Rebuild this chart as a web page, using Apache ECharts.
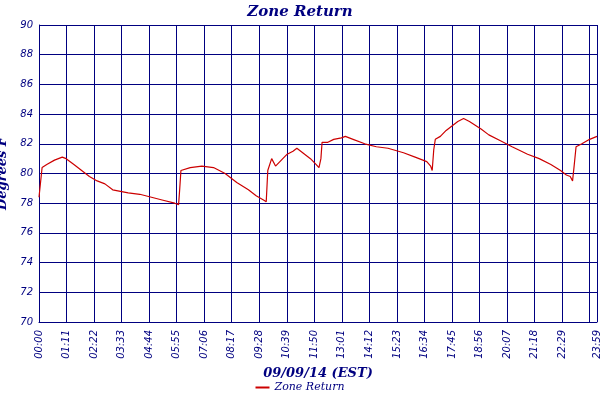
<!DOCTYPE html>
<html><head><meta charset="utf-8">
<script src="https://cdn.jsdelivr.net/npm/echarts@6/dist/echarts.min.js"></script>
<style>html,body{margin:0;padding:0;background:#fff}#c{width:600px;height:400px}</style>
</head><body><div id="c"></div>
<script>
const minutes = [0,5,8,20,40,60,70,90,110,130,150,170,190,210,230,260,290,320,350,360,363,366,390,420,450,480,510,540,560,580,586,590,600,610,625,640,655,665,680,700,715,722,727,730,745,760,780,790,810,840,870,900,940,970,1000,1010,1014,1018,1022,1035,1050,1060,1080,1095,1110,1140,1160,1190,1220,1260,1290,1320,1345,1360,1370,1376,1380,1385,1400,1420,1439];
const temps   = [78.4,78.4,80.4,80.6,80.9,81.1,81.0,80.6,80.2,79.8,79.5,79.3,78.9,78.8,78.7,78.6,78.4,78.2,78.0,77.9,79.0,80.2,80.4,80.5,80.4,80.0,79.4,78.9,78.5,78.2,78.1,80.2,81.0,80.5,80.9,81.3,81.5,81.7,81.4,81.0,80.6,80.4,81.0,82.1,82.1,82.3,82.4,82.5,82.3,82.0,81.8,81.7,81.4,81.1,80.8,80.5,80.2,81.6,82.3,82.5,82.9,83.1,83.5,83.7,83.5,83.0,82.6,82.2,81.8,81.3,81.0,80.6,80.2,79.9,79.8,79.5,80.5,81.8,82.0,82.3,82.5];
const yTicks = [70,72,74,76,78,80,82,84,86,88,90];
const seriesName = 'Zone Return';
const navy = '#000080';
const data = minutes.map((m,i)=>[m,temps[i]]);
function fmt(v){const h=Math.floor(v/60),m=Math.round(v%60);return String(h).padStart(2,'0')+':'+String(m).padStart(2,'0');}
const chart = echarts.init(document.getElementById('c'));
chart.setOption({
  animation:false,
  title:{text:'Zone Return',left:'center',top:0,textStyle:{color:navy,fontFamily:'DejaVu Serif',fontStyle:'italic',fontWeight:'bold',fontSize:15}},
  grid:{left:39,right:3,top:25,bottom:78,containLabel:false,outerBoundsMode:'none'},
  legend:{bottom:2,left:'center',icon:'rect',itemWidth:14,itemHeight:2,textStyle:{color:navy,fontFamily:'DejaVu Serif',fontStyle:'italic',fontSize:11},data:[seriesName]},
  xAxis:{type:'value',min:0,max:1439,interval:71,
    name:'09/09/14 (EST)',nameLocation:'middle',nameGap:44,
    nameTextStyle:{color:navy,fontFamily:'DejaVu Serif',fontStyle:'italic',fontWeight:'bold',fontSize:13},
    axisLine:{lineStyle:{color:navy}},axisTick:{show:false},
    axisLabel:{rotate:90,color:navy,fontFamily:'DejaVu Sans',fontStyle:'italic',fontSize:10,formatter:fmt,showMinLabel:true,showMaxLabel:true},
    splitLine:{show:true,lineStyle:{color:navy,width:1}}},
  yAxis:{type:'value',min:yTicks[0],max:yTicks[yTicks.length-1],interval:2,
    name:'Degrees F',nameLocation:'middle',nameGap:26,
    nameTextStyle:{color:navy,fontFamily:'DejaVu Serif',fontStyle:'italic',fontWeight:'bold',fontSize:13},
    axisLine:{show:true,lineStyle:{color:navy}},axisTick:{show:false},
    axisLabel:{color:navy,fontFamily:'DejaVu Sans',fontStyle:'italic',fontSize:10,margin:6},
    splitLine:{show:true,lineStyle:{color:navy,width:1}}},
  series:[{name:seriesName,type:'line',data:data,showSymbol:false,lineStyle:{color:'#cc0000',width:1.2},itemStyle:{color:'#cc0000'}}]
});
</script></body></html>
